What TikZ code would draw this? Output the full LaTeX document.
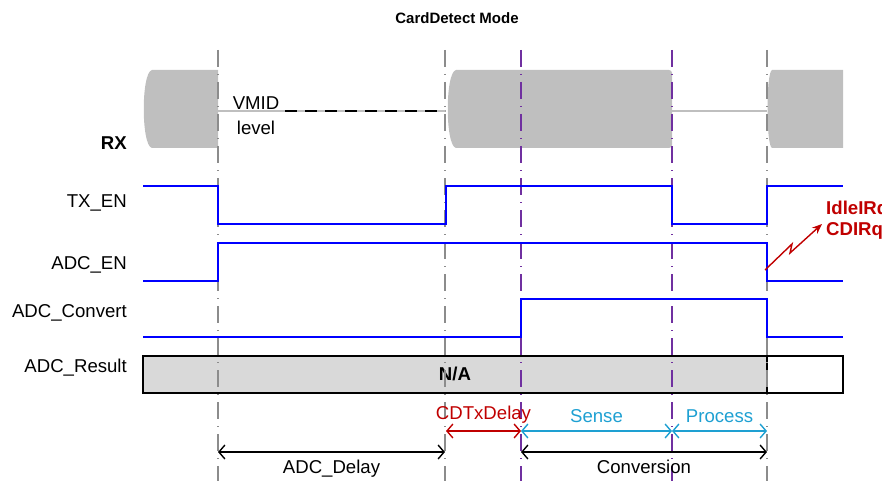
\documentclass[tikz,border=0pt]{standalone}
\usepackage{fontspec}
\setmainfont{Liberation Sans}
\usetikzlibrary{arrows.meta}
\definecolor{sigblue}{RGB}{0,0,255}
\definecolor{rxgray}{RGB}{191,191,191}
\definecolor{resgray}{RGB}{217,217,217}
\definecolor{irqred}{RGB}{192,0,0}
\definecolor{phcyan}{RGB}{30,160,210}
\definecolor{phpurple}{RGB}{112,48,160}
\tikzstyle{sig}=[sigblue,line width=1.8pt]
\tikzstyle{guide}=[black!45,line width=1.3pt,dash pattern=on 17pt off 7pt on 1pt off 7pt]
\tikzstyle{phase}=[guide,phpurple]
\tikzstyle{span}=[{Straight Barb[length=6pt,width=14pt]}-{Straight Barb[length=6pt,width=14pt]},line width=1.4pt]
\tikzstyle{lbl}=[anchor=east,font=\fontsize{18.6}{21}\selectfont]

\begin{document}
\begin{tikzpicture}[x=1pt,y=-1pt,every node/.append style={inner sep=0pt,font=\fontsize{18.6}{21}\selectfont}]
  \useasboundingbox (0,0) rectangle (882,481);
  \node[font=\bfseries\fontsize{15}{18}\selectfont] (title) at (457,18) {CardDetect Mode};
  % RX
  \fill[rxgray] (218,70) -- (152,70) .. controls (141,72) and (141,146) .. (152,148) -- (218,148) -- cycle;
  \fill[rxgray,rounded corners=3pt] (456,70) -- (672,70) -- (672,148) -- (456,148);
  \fill[rxgray] (456,70) .. controls (445,72) and (445,146) .. (456,148) -- cycle;
  \fill[rxgray] (843,70) -- (772,70) .. controls (766,72) and (766,146) .. (772,148) -- (843,148) -- cycle;
  \draw[rxgray,line width=1.2pt] (218,111) -- (446,111) (672,111) -- (767,111);
  \draw[line width=2.2pt,dash pattern=on 12pt off 8pt] (285,111) -- (445,111);
  \node (vmid) at (256,103) {VMID};
  \node (level) at (256,128) {level};
  \node[lbl,font=\bfseries\fontsize{18.6}{21}\selectfont] (rx) at (127,143) {RX};
  % Result
  \fill[resgray] (143,356) rectangle (767,393);
  \draw[line width=1.8pt] (143,356) rectangle (843,393) (767,356) -- (767,393);
  \node[font=\bfseries\fontsize{18.6}{21}\selectfont] (na) at (455,374) {N/A};
  % Guides
  \foreach \x in {218,445,767} \draw[guide] (\x,50) -- (\x,481);
  \foreach \x in {521,672} \draw[phase] (\x,50) -- (\x,481);
  % Signals
  \node[lbl] (txen) at (127,203) {TX\_EN};
  \node[lbl] (adcen) at (127,265) {ADC\_EN};
  \node[lbl] (adcconv) at (127,313) {ADC\_Convert};
  \node[lbl] (adcres) at (127,368) {ADC\_Result};
  \draw[sig] (143,186) -- (218,186) -- (218,224) -- (446,224) -- (446,186) -- (672,186)
    -- (672,224) -- (767,224) -- (767,186) -- (843,186);
  \draw[sig] (143,281) -- (218,281) -- (218,243) -- (767,243) -- (767,281) -- (843,281);
  \draw[sig] (143,337) -- (521,337) -- (521,299) -- (767,299) -- (767,337) -- (843,337);
  % Interrupt
  \node[anchor=west,irqred,font=\bfseries\fontsize{18.6}{21}\selectfont,align=left] (irq) at (826,220) {IdleIRq\\CDIRq};
  \coordinate (z0) at (765,270);
  \coordinate (z1) at (822,224);
  \draw[irqred,line width=1.4pt,-{Stealth[length=10pt,width=8pt]}] (z0) -- (792,244) -- (790,253) -- (z1);
  % Spans
  \coordinate (d0) at (218,452);
  \coordinate (d1) at (445,452);
  \coordinate (c0) at (521,452);
  \coordinate (c1) at (767,452);
  \coordinate (p0) at (446,431);
  \coordinate (p1) at (521,431);
  \coordinate (p2) at (672,431);
  \coordinate (p3) at (767,431);
  \draw[span] (d0) -- node[below=7pt] (adcdelay) {ADC\_Delay} (d1);
  \draw[span] (c0) -- node[below=7pt] (conv) {Conversion} (c1);
  \draw[span,irqred] (p0) -- node[above=7pt] (cdtx) {CDTxDelay} (p1);
  \draw[span,phcyan] (p1) -- node[above=8pt] (sense) {Sense} (p2);
  \draw[span,phcyan] (p2) -- node[above=8pt] (proc) {Process} (p3);
\end{tikzpicture}
\end{document}
